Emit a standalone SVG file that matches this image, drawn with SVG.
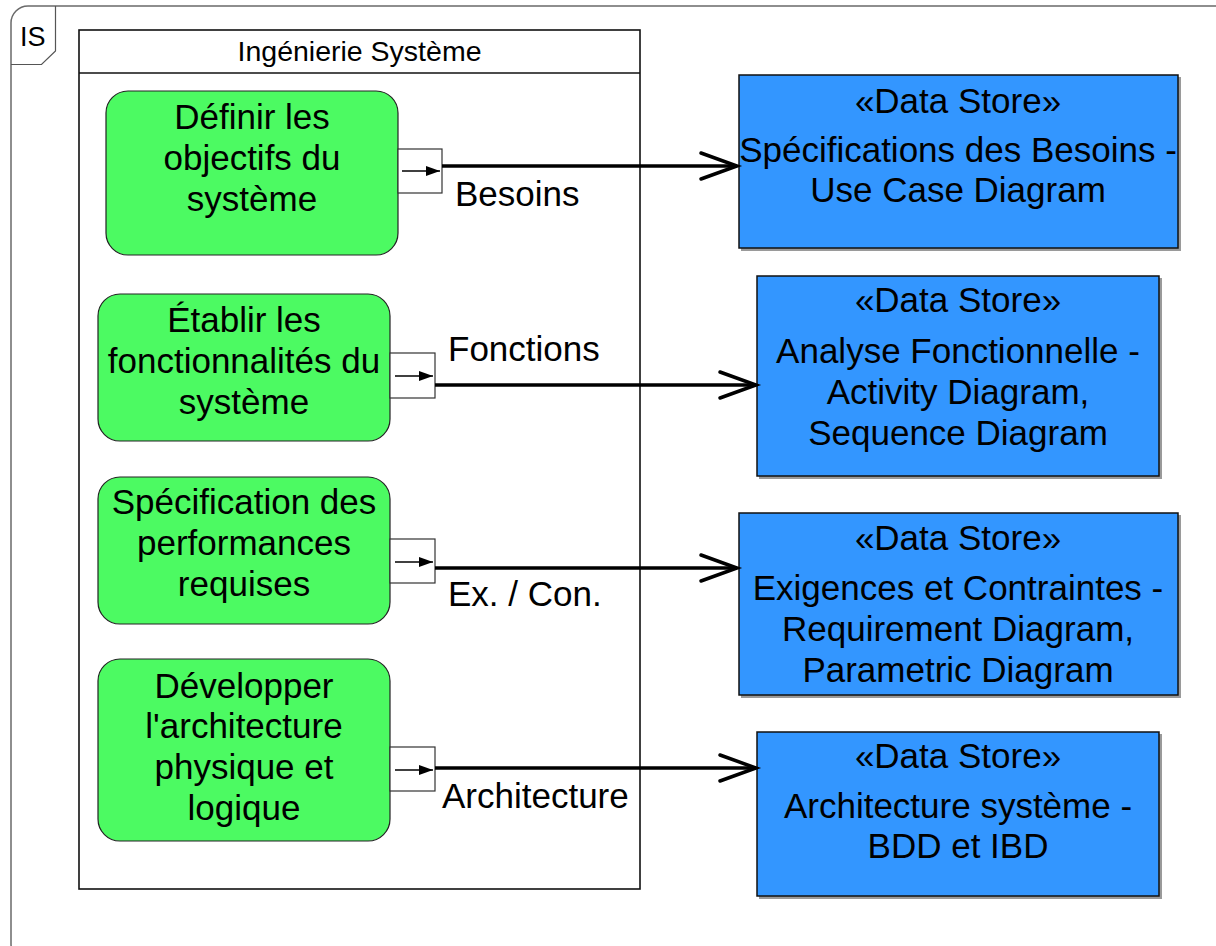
<svg xmlns="http://www.w3.org/2000/svg" width="1216" height="946" viewBox="0 0 1216 946">
  <style>
    text { font-family: "Liberation Sans", Arial, sans-serif; fill: #000; }
    .big { font-size: 35px; text-anchor: middle; }
    .lbl { font-size: 35px; }
    .hdr { font-size: 28.5px; text-anchor: middle; }
    .action { fill: #4cfa62; stroke: #222; stroke-width: 1.2; }
    .store { fill: #3396ff; stroke: #111; stroke-width: 1.5; }
    .shadow { fill: #9a9a9a; }
    .pin { fill: #fff; stroke: #333; stroke-width: 1.2; }
    .pinflow { stroke: #000; stroke-width: 1.6; fill: none; }
    .flow { stroke: #000; stroke-width: 3.5; fill: none; }
    .head { stroke: #000; stroke-width: 3.5; fill: none; stroke-linecap: round; stroke-linejoin: miter; }
  </style>
  <defs>
    <marker id="pinArrow" viewBox="0 0 14 10" refX="14" refY="5" markerWidth="14" markerHeight="10" markerUnits="userSpaceOnUse" orient="auto">
      <path d="M0,0 L14,5 L0,10 Z" fill="#000"/>
    </marker>
  </defs>

  <rect width="1216" height="946" fill="#fff"/>

  <!-- diagram frame with name tab -->
  <g id="frame">
    <rect x="11" y="6" width="1220" height="955" rx="17" ry="17" fill="none" stroke="#6a6a6a" stroke-width="1.5"/>
    <path d="M11,64.5 L41.5,64.5 L55.5,51 L55.5,6" fill="none" stroke="#555" stroke-width="1.2"/>
    <text x="20" y="46" font-size="27">IS</text>
  </g>

  <!-- activity partition -->
  <g id="partition">
    <rect x="79" y="30" width="561" height="859" fill="none" stroke="#111" stroke-width="1.6"/>
    <line x1="79" y1="73" x2="640" y2="73" stroke="#111" stroke-width="1.4"/>
    <text class="hdr" x="359.5" y="61">Ingénierie Système</text>
  </g>

  <!-- actions -->
  <g id="action-objectifs">
    <rect class="action" x="106" y="91" width="292" height="164" rx="22" ry="22"/>
    <text class="big" x="252" y="129">Définir les</text>
    <text class="big" x="252" y="170">objectifs du</text>
    <text class="big" x="252" y="211">système</text>
    <rect class="pin" x="398" y="149" width="44" height="44"/>
    <line class="pinflow" x1="402" y1="171" x2="440" y2="171" marker-end="url(#pinArrow)"/>
  </g>

  <g id="action-fonctionnalites">
    <rect class="action" x="98" y="294" width="292" height="147" rx="22" ry="22"/>
    <text class="big" x="244" y="332">Établir les</text>
    <text class="big" x="244" y="373">fonctionnalités du</text>
    <text class="big" x="244" y="414">système</text>
    <rect class="pin" x="390" y="353" width="45" height="45"/>
    <line class="pinflow" x1="395" y1="376" x2="433" y2="376" marker-end="url(#pinArrow)"/>
  </g>

  <g id="action-performances">
    <rect class="action" x="98" y="477" width="292" height="147" rx="22" ry="22"/>
    <text class="big" x="244" y="514">Spécification des</text>
    <text class="big" x="244" y="555">performances</text>
    <text class="big" x="244" y="596">requises</text>
    <rect class="pin" x="390" y="539" width="45" height="44"/>
    <line class="pinflow" x1="395" y1="562" x2="433" y2="562" marker-end="url(#pinArrow)"/>
  </g>

  <g id="action-architecture">
    <rect class="action" x="98" y="659" width="292" height="182" rx="22" ry="22"/>
    <text class="big" x="244" y="698">Développer</text>
    <text class="big" x="244" y="738">l'architecture</text>
    <text class="big" x="244" y="779">physique et</text>
    <text class="big" x="244" y="820">logique</text>
    <rect class="pin" x="390" y="747" width="45" height="44"/>
    <line class="pinflow" x1="395" y1="770" x2="433" y2="770" marker-end="url(#pinArrow)"/>
  </g>

  <!-- data stores -->
  <g id="store-besoins">
    <rect class="shadow" x="741" y="77" width="440" height="174"/>
    <rect class="store" x="739" y="75" width="439" height="173"/>
    <text class="big" x="958" y="113">«Data Store»</text>
    <text class="big" x="958" y="162">Spécifications des Besoins -</text>
    <text class="big" x="958" y="202">Use Case Diagram</text>
  </g>

  <g id="store-fonctions">
    <rect class="shadow" x="759" y="278" width="403" height="201"/>
    <rect class="store" x="757" y="276" width="402" height="200"/>
    <text class="big" x="958" y="312">«Data Store»</text>
    <text class="big" x="958" y="363">Analyse Fonctionnelle -</text>
    <text class="big" x="958" y="404">Activity Diagram,</text>
    <text class="big" x="958" y="445">Sequence Diagram</text>
  </g>

  <g id="store-exigences">
    <rect class="shadow" x="741" y="515" width="440" height="183"/>
    <rect class="store" x="739" y="513" width="439" height="182"/>
    <text class="big" x="958" y="550">«Data Store»</text>
    <text class="big" x="958" y="600">Exigences et Contraintes -</text>
    <text class="big" x="958" y="641">Requirement Diagram,</text>
    <text class="big" x="958" y="682">Parametric Diagram</text>
  </g>

  <g id="store-architecture">
    <rect class="shadow" x="759" y="734" width="403" height="165"/>
    <rect class="store" x="757" y="732" width="402" height="164"/>
    <text class="big" x="958" y="768">«Data Store»</text>
    <text class="big" x="958" y="818">Architecture système -</text>
    <text class="big" x="958" y="858">BDD et IBD</text>
  </g>

  <!-- object flows -->
  <g id="connectors">
    <line class="flow" x1="442" y1="166" x2="737" y2="166"/>
    <path class="head" d="M701,153 L737,166 L701,179"/>
    <text class="lbl" x="455" y="206">Besoins</text>

    <line class="flow" x1="435" y1="385" x2="756" y2="385"/>
    <path class="head" d="M720,372 L756,385 L720,398"/>
    <text class="lbl" x="448" y="361">Fonctions</text>

    <line class="flow" x1="435" y1="568" x2="737" y2="568"/>
    <path class="head" d="M701,555 L737,568 L701,581"/>
    <text class="lbl" x="448" y="606">Ex. / Con.</text>

    <line class="flow" x1="435" y1="768" x2="756" y2="768"/>
    <path class="head" d="M720,755 L756,768 L720,781"/>
    <text class="lbl" x="442" y="808">Architecture</text>
  </g>
</svg>
